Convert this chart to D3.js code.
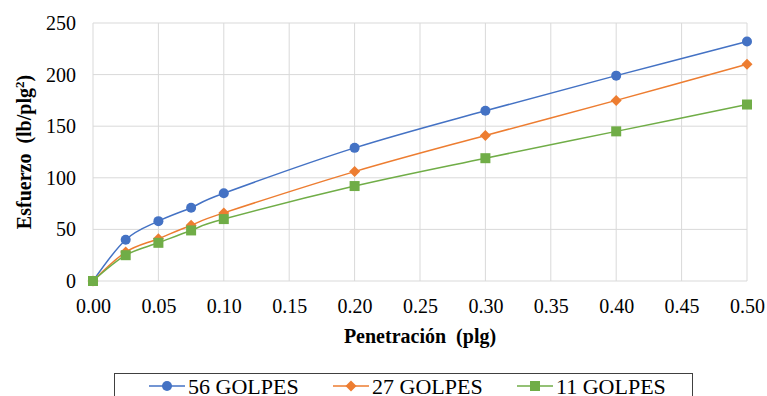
<!DOCTYPE html>
<html>
<head>
<meta charset="utf-8">
<script src="https://cdn.jsdelivr.net/npm/d3@7"></script>
<style>
  html, body { margin: 0; padding: 0; background: #fff; }
</style>
</head>
<body>
<svg id="chart" width="767" height="396"></svg>
<script>
// Penetración (plg) at each reading
const penetration = [0, 0.025, 0.05, 0.075, 0.1, 0.2, 0.3, 0.4, 0.5];
// Esfuerzo (lb/plg²) per compaction energy
const golpes56 = [0, 40, 58, 71, 85, 129, 165, 199, 232];
const golpes27 = [0, 28, 41, 54, 66, 106, 141, 175, 210];
const golpes11 = [0, 25, 37, 49, 60, 92, 119, 145, 171];
const seriesNames = ["56 GOLPES", "27 GOLPES", "11 GOLPES"];
const xTicks = [0, 0.05, 0.1, 0.15, 0.2, 0.25, 0.3, 0.35, 0.4, 0.45, 0.5];
const yTicks = [0, 50, 100, 150, 200, 250];

const colors = ["#4472C4", "#ED7D31", "#70AD47"];
const markers = ["circle", "diamond", "square"];
const seriesValues = [golpes56, golpes27, golpes11];
const SERIF = '"Liberation Serif", "Times New Roman", serif';

const svg = d3.select("#chart");
const plot = { left: 93, right: 747, top: 23, bottom: 281 };

const x = d3.scaleLinear().domain([0, 0.5]).range([plot.left, plot.right]);
const y = d3.scaleLinear().domain([0, 250]).range([plot.bottom, plot.top]);

// gridlines
const grid = svg.append("g");
grid.selectAll("line.v").data(xTicks).join("line")
  .attr("x1", d => x(d)).attr("x2", d => x(d))
  .attr("y1", plot.top).attr("y2", plot.bottom)
  .attr("stroke", "#d9d9d9").attr("stroke-width", 1);
grid.selectAll("line.h").data(yTicks).join("line")
  .attr("x1", plot.left).attr("x2", plot.right)
  .attr("y1", d => y(d)).attr("y2", d => y(d))
  .attr("stroke", "#d9d9d9").attr("stroke-width", 1);

// axes (labels only; grid draws the lines)
const xAxis = svg.append("g").attr("transform", `translate(0,${plot.bottom})`)
  .call(d3.axisBottom(x).tickValues(xTicks).tickFormat(d3.format(".2f")).tickSize(0).tickPadding(18));
const yAxis = svg.append("g").attr("transform", `translate(${plot.left},0)`)
  .call(d3.axisLeft(y).tickValues(yTicks).tickSize(0).tickPadding(17));
[xAxis, yAxis].forEach(a => {
  a.attr("font-family", SERIF).attr("font-size", 20);
  a.select(".domain").remove();
  a.selectAll("text").attr("font-family", SERIF).attr("font-size", 20).attr("fill", "#000");
});

// axis titles
svg.append("text")
  .attr("x", (plot.left + plot.right) / 2).attr("y", 343)
  .attr("font-family", SERIF)
  .attr("text-anchor", "middle").attr("font-size", 20).attr("font-weight", "bold")
  .style("white-space", "pre")
  .text("Penetración  (plg)");

const yTitle = svg.append("text")
  .attr("transform", "translate(31,152) rotate(-90)")
  .attr("font-family", SERIF)
  .attr("text-anchor", "middle").attr("font-size", 20).attr("font-weight", "bold")
  .style("white-space", "pre");
yTitle.append("tspan").text("Esfuerzo  (lb/plg");
yTitle.append("tspan").attr("baseline-shift", "super").attr("font-size", 13).text("2");
yTitle.append("tspan").text(")");

// marker drawing helper
function drawMarker(g, type, color, cx, cy) {
  if (type === "circle") {
    g.append("circle").attr("cx", cx).attr("cy", cy).attr("r", 5).attr("fill", color);
  } else if (type === "diamond") {
    const s = 5.5;
    g.append("path")
      .attr("d", `M${cx},${cy - s}L${cx + s},${cy}L${cx},${cy + s}L${cx - s},${cy}Z`)
      .attr("fill", color);
  } else {
    const s = 5;
    g.append("rect").attr("x", cx - s).attr("y", cy - s).attr("width", 2 * s).attr("height", 2 * s)
      .attr("fill", color);
  }
}

const line = d3.line()
  .x((d, i) => x(penetration[i]))
  .y(d => y(d))
  .curve(d3.curveCatmullRom.alpha(0));

seriesValues.forEach((vals, si) => {
  const g = svg.append("g");
  g.append("path").attr("d", line(vals))
    .attr("fill", "none").attr("stroke", colors[si]).attr("stroke-width", 1.5);
  vals.forEach((v, i) => drawMarker(g, markers[si], colors[si], x(penetration[i]), y(v)));
});

// legend
const legend = svg.append("g");
legend.append("rect")
  .attr("x", 114.5).attr("y", 373.5).attr("width", 578).attr("height", 40)
  .attr("fill", "#fff").attr("stroke", "#404040").attr("stroke-width", 1);
const legendX = [149, 333, 517];
seriesNames.forEach((name, si) => {
  const lx = legendX[si];
  const cy = 386;
  legend.append("line").attr("x1", lx).attr("x2", lx + 36).attr("y1", cy).attr("y2", cy)
    .attr("stroke", colors[si]).attr("stroke-width", 1.5);
  drawMarker(legend, markers[si], colors[si], lx + 18, cy);
  legend.append("text").attr("x", lx + 39).attr("y", 394)
    .attr("font-family", SERIF)
    .attr("font-size", 22).attr("fill", "#000").text(name);
});
</script>
</body>
</html>
